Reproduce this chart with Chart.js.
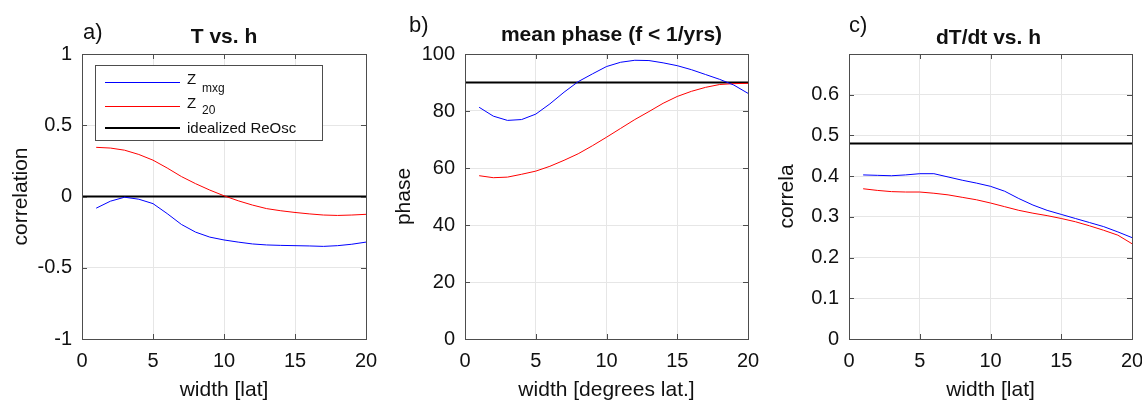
<!DOCTYPE html>
<html>
<head>
<meta charset="utf-8">
<script src="https://cdn.jsdelivr.net/npm/chart.js@4.4.1/dist/chart.umd.min.js"></script>
<style>
  body { margin: 0; background: #fff; width: 1142px; height: 400px; overflow: hidden; position: relative; }
  canvas { position: absolute; top: 0; }
</style>
</head>
<body>
<canvas id="chartA" width="380" height="400" style="left:0px"></canvas>
<canvas id="chartB" width="380" height="400" style="left:380px"></canvas>
<canvas id="chartC" width="382" height="400" style="left:760px"></canvas>
<script>
// band width [degrees lat]
const widths = [1, 2, 3, 4, 5, 6, 7, 8, 9, 10, 11, 12, 13, 14, 15, 16, 17, 18, 19, 20];

// a) T vs. h correlation
const corrMxg = [-0.082, -0.033, -0.005, -0.019, -0.05, -0.12, -0.196, -0.25, -0.285, -0.305,
  -0.32, -0.333, -0.34, -0.343, -0.345, -0.347, -0.35, -0.345, -0.335, -0.32];
const corr20 = [0.345, 0.34, 0.325, 0.295, 0.255, 0.2, 0.14, 0.09, 0.045, 0.005,
  -0.03, -0.06, -0.085, -0.1, -0.112, -0.122, -0.13, -0.133, -0.13, -0.125];
const corrIdeal = 0;

// b) mean phase
const phaseMxg = [81.3, 78.2, 76.7, 77.0, 78.9, 82.5, 86.6, 90.3, 93.0, 95.6,
  97.1, 97.8, 97.7, 96.9, 95.9, 94.5, 92.8, 91.1, 89.1, 86.2];
const phase20 = [57.3, 56.6, 56.8, 57.8, 58.9, 60.6, 62.7, 65.0, 67.8, 70.8,
  73.9, 77.0, 79.8, 82.7, 85.1, 86.9, 88.3, 89.3, 89.6, 89.7];
const phaseIdeal = 90;

// c) dT/dt vs. h correlation
const dtMxg = [0.403, 0.402, 0.401, 0.403, 0.406, 0.406, 0.398, 0.39, 0.383, 0.375,
  0.363, 0.345, 0.329, 0.316, 0.306, 0.296, 0.286, 0.276, 0.263, 0.249];
const dt20 = [0.369, 0.365, 0.362, 0.361, 0.361, 0.358, 0.354, 0.348, 0.342, 0.334,
  0.325, 0.316, 0.309, 0.303, 0.296, 0.288, 0.278, 0.267, 0.255, 0.234];
const dtIdeal = 0.48;

const xTicks = [0, 5, 10, 15, 20];

const FONT = '"Liberation Sans", Arial, Helvetica, sans-serif';
const textColor = '#111';
const frameColor = '#4d4d4d';
const gridColor = '#e6e6e6';

const toPoints = (ys) => widths.map((x, i) => ({x: x, y: ys[i]}));
const flatLine = (v) => [{x: xTicks[0], y: v}, {x: xTicks[xTicks.length - 1], y: v}];

// frame, inward tick marks, title, panel letter and (panel a) legend
const panelDecor = {
  id: 'panelDecor',
  afterDraw(chart, args, opts) {
    const ctx = chart.ctx;
    const area = chart.chartArea;
    const xs = chart.scales.x;
    const ys = chart.scales.y;
    ctx.save();
    ctx.strokeStyle = frameColor;
    ctx.lineWidth = 1;
    ctx.beginPath();
    xs.ticks.forEach(t => {
      const px = Math.round(xs.getPixelForValue(t.value)) + 0.5;
      ctx.moveTo(px, area.bottom); ctx.lineTo(px, area.bottom - 5);
      ctx.moveTo(px, area.top); ctx.lineTo(px, area.top + 5);
    });
    ys.ticks.forEach(t => {
      const py = Math.round(ys.getPixelForValue(t.value)) + 0.5;
      ctx.moveTo(area.left, py); ctx.lineTo(area.left + 5, py);
      ctx.moveTo(area.right, py); ctx.lineTo(area.right - 5, py);
    });
    ctx.stroke();
    ctx.strokeRect(Math.round(area.left) + 0.5, Math.round(area.top) + 0.5,
      Math.round(area.right - area.left), Math.round(area.bottom - area.top));

    ctx.fillStyle = textColor;
    ctx.textBaseline = 'alphabetic';
    ctx.font = 'bold 21px ' + FONT;
    ctx.textAlign = 'center';
    ctx.fillText(opts.title, (area.left + area.right) / 2 + opts.titleDx, opts.titleY);
    ctx.font = '22px ' + FONT;
    ctx.textAlign = 'left';
    ctx.fillText(opts.label, opts.labelX, opts.labelY);

    if (opts.legend) {
      const bx = 95, by = 65, bw = 227, bh = 75;
      ctx.fillStyle = '#fff';
      ctx.fillRect(bx, by, bw, bh);
      ctx.strokeStyle = frameColor;
      ctx.strokeRect(bx + 0.5, by + 0.5, bw, bh);
      const rows = [
        {color: '#0000ff', width: 1, y: 82, text: 'Z', sub: 'mxg', base: 84, subBase: 92},
        {color: '#ff0000', width: 1, y: 106, text: 'Z', sub: '20', base: 108, subBase: 114},
        {color: '#000000', width: 2, y: 128, text: 'idealized ReOsc', sub: '', base: 133, subBase: 0}
      ];
      rows.forEach(r => {
        ctx.strokeStyle = r.color;
        ctx.lineWidth = r.width;
        ctx.beginPath();
        ctx.moveTo(105, r.y + (r.width === 1 ? 0.5 : 0));
        ctx.lineTo(180, r.y + (r.width === 1 ? 0.5 : 0));
        ctx.stroke();
        ctx.fillStyle = textColor;
        ctx.font = '15px ' + FONT;
        ctx.fillText(r.text, 187, r.base);
        if (r.sub) {
          ctx.font = '12px ' + FONT;
          ctx.fillText(r.sub, 202, r.subBase);
        }
      });
    }
    ctx.restore();
  }
};

function makePanel(id, d) {
  return new Chart(document.getElementById(id), {
    type: 'line',
    data: {
      datasets: [
        {data: toPoints(d.blue), borderColor: '#0000ff', borderWidth: 1},
        {data: toPoints(d.red), borderColor: '#ff0000', borderWidth: 1},
        {data: flatLine(d.ideal), borderColor: '#000000', borderWidth: 2}
      ]
    },
    options: {
      responsive: false,
      animation: false,
      events: [],
      elements: {point: {radius: 0}, line: {tension: 0}},
      layout: {padding: {top: 54, right: d.padRight, left: 0, bottom: 0}},
      plugins: {
        legend: {display: false},
        tooltip: {enabled: false},
        panelDecor: d.decor
      },
      scales: {
        x: {
          type: 'linear',
          min: 0, max: 20,
          afterBuildTicks: (s) => { s.ticks = xTicks.map(v => ({value: v})); },
          ticks: {font: {family: FONT, size: 20}, color: textColor, padding: 10, maxRotation: 0},
          grid: {color: gridColor, drawTicks: false},
          border: {display: false},
          title: {display: true, text: d.xTitle, color: textColor,
            font: {family: FONT, size: 21}, padding: {top: 0, bottom: -3}},
          afterFit: (s) => { s.height = 61; s.paddingLeft = 0; s.paddingRight = 0; }
        },
        y: {
          min: d.yMin, max: d.yMax,
          ticks: {
            stepSize: d.yStep,
            font: {family: FONT, size: 20}, color: textColor, padding: 10,
            callback: (v) => {
              if (d.hideTop && v === d.yMax) return '';
              return String(Math.round(v * 100) / 100);
            }
          },
          grid: {color: gridColor, drawTicks: false},
          border: {display: false},
          title: {display: true, text: d.yTitle, color: textColor,
            font: {family: FONT, size: 21}, padding: {top: d.yTitlePad, bottom: 0}},
          afterFit: (s) => { s.width = d.yWidth; s.paddingTop = 0; s.paddingBottom = 0; }
        }
      }
    },
    plugins: [panelDecor]
  });
}

makePanel('chartA', {
  blue: corrMxg, red: corr20, ideal: corrIdeal,
  yMin: -1, yMax: 1, yStep: 0.5, hideTop: false,
  xTitle: 'width [lat]', yTitle: 'correlation', yTitlePad: 9, yWidth: 82, padRight: 14,
  decor: {title: 'T vs. h', titleY: 43, titleDx: 0, label: 'a)', labelX: 83, labelY: 39, legend: true}
});

makePanel('chartB', {
  blue: phaseMxg, red: phase20, ideal: phaseIdeal,
  yMin: 0, yMax: 100, yStep: 20, hideTop: false,
  xTitle: 'width [degrees lat.]', yTitle: 'phase', yTitlePad: 12, yWidth: 85, padRight: 12,
  decor: {title: 'mean phase (f < 1/yrs)', titleY: 41, titleDx: 5, label: 'b)', labelX: 29, labelY: 32, legend: false}
});

makePanel('chartC', {
  blue: dtMxg, red: dt20, ideal: dtIdeal,
  yMin: 0, yMax: 0.7, yStep: 0.1, hideTop: true,
  xTitle: 'width [lat]', yTitle: 'correla', yTitlePad: 15, yWidth: 89, padRight: 10,
  decor: {title: 'dT/dt vs. h', titleY: 44, titleDx: -2, label: 'c)', labelX: 89, labelY: 32, legend: false}
});
</script>
</body>
</html>
